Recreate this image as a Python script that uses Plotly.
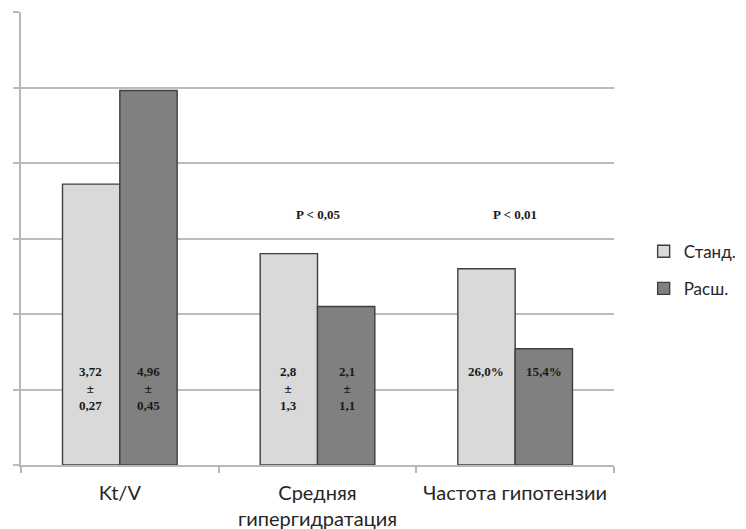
import plotly.graph_objects as go

categories = ["Kt/V", "Средняя<br>гипергидратация", "Частота гипотензии"]
stand_values = [3.72, 2.8, 2.6]
rash_values = [4.96, 2.1, 1.54]
stand_labels = ["3,72<br>±<br>0,27", "2,8<br>±<br>1,3", "26,0%"]
rash_labels = ["4,96<br>±<br>0,45", "2,1<br>±<br>1,1", "15,4%"]
p_labels = ["", "P < 0,05", "P < 0,01"]
series_names = ["Станд.", "Расш."]

fig = go.Figure()
fig.add_trace(go.Bar(x=categories, y=stand_values, name=series_names[0],
                     marker=dict(color="#d9d9d9", line=dict(color="#3f3f3f", width=1.4)),
                     legendgroup="a"))
fig.add_trace(go.Bar(x=categories, y=rash_values, name=series_names[1],
                     marker=dict(color="#808080", line=dict(color="#3f3f3f", width=1.4)),
                     legendgroup="b"))

serif = "Liberation Serif, Times New Roman, serif"
for i, c in enumerate(categories):
    for lab, shift in ((stand_labels[i], -29), (rash_labels[i], 29)):
        fig.add_annotation(x=c, y=1.37, text=f"<b>{lab}</b>", xshift=shift,
                           yanchor="top", showarrow=False,
                           font=dict(family=serif, size=13, color="#1a1a1a"))
    if p_labels[i]:
        fig.add_annotation(x=c, y=3.32, text=f"<b>{p_labels[i]}</b>", showarrow=False,
                           font=dict(family=serif, size=13, color="#1a1a1a"))

fig.update_layout(
    width=738, height=521,
    margin=dict(l=13, r=114, t=4, b=64),
    paper_bgcolor="white", plot_bgcolor="white",
    barmode="group", bargap=0.42, bargroupgap=0,
    font=dict(family="Lato, Open Sans, sans-serif", size=20, color="#262626"),
    legend=dict(x=1.05, y=0.43, xanchor="left", yanchor="middle",
                font=dict(size=17), tracegroupgap=12, itemwidth=30),
    showlegend=True,
)
fig.update_xaxes(showline=True, linecolor="#b8b8b8", linewidth=2,
                 ticks="outside", tickson="boundaries", ticklen=6,
                 tickcolor="#b8b8b8", tickwidth=2, showgrid=False,
                 tickfont=dict(size=20), ticklabelstandoff=9, automargin=False)
fig.update_yaxes(range=[0, 6], dtick=1, showline=True, linecolor="#b8b8b8", linewidth=2,
                 showgrid=True, gridcolor="#bcbcbc", gridwidth=2,
                 ticks="outside", ticklen=6, tickcolor="#bcbcbc", tickwidth=2,
                 showticklabels=False, zeroline=False, automargin=False)

fig.write_html("out.html")
